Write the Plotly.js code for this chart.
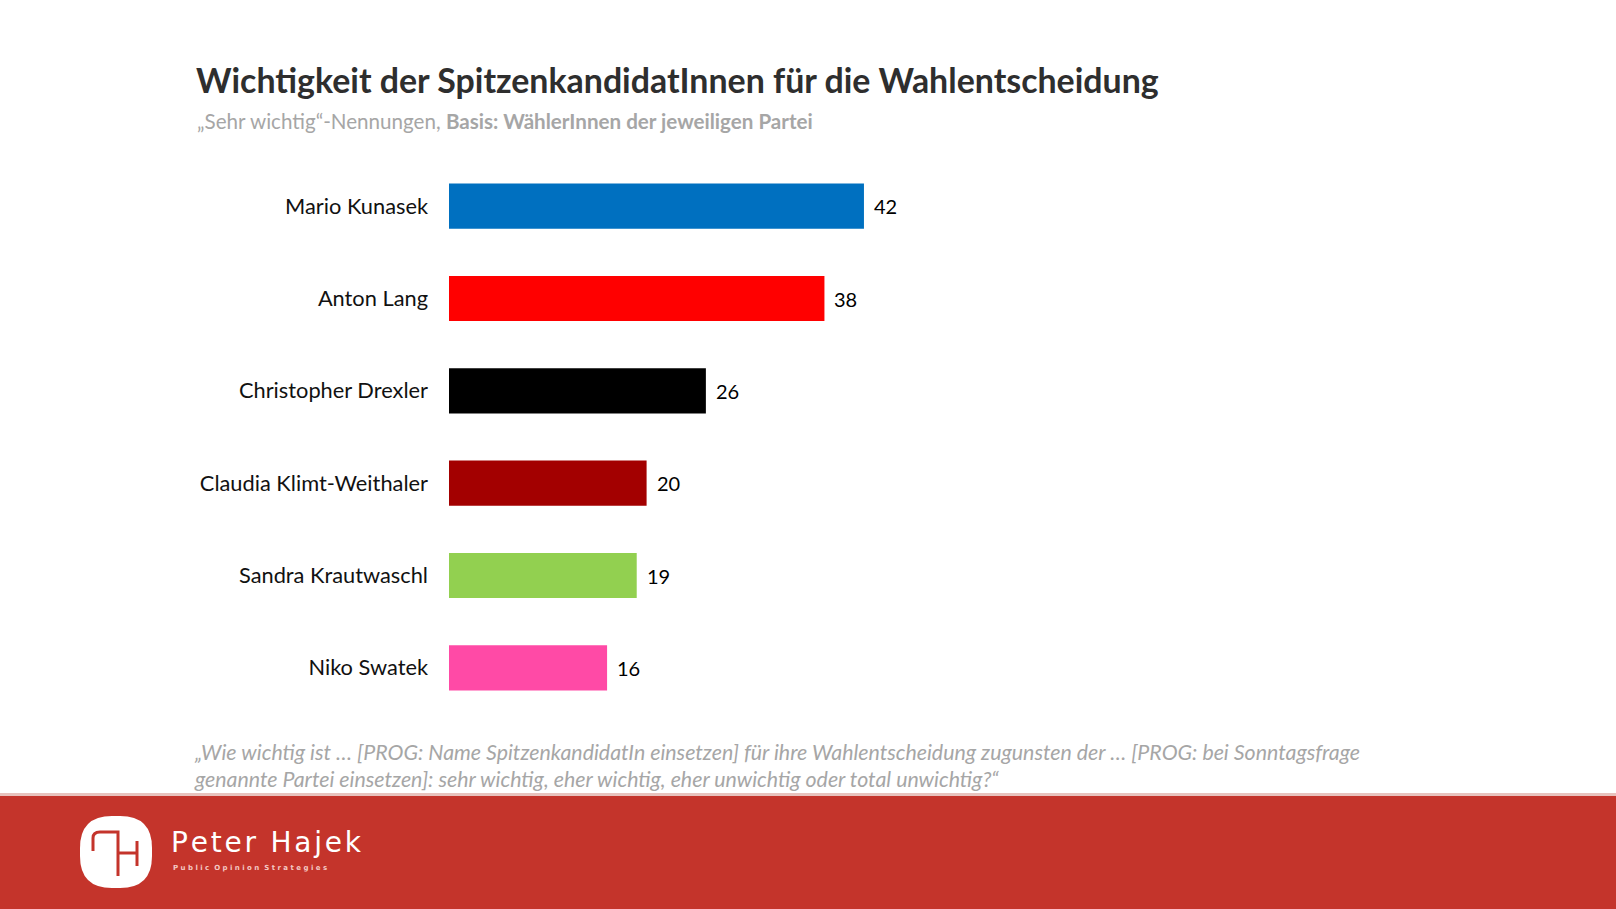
<!DOCTYPE html>
<html>
<head>
<meta charset="utf-8">
<script src="https://cdn.plot.ly/plotly-3.0.1.min.js"></script>
<style>html,body{margin:0;padding:0;background:#fff;}#chart{width:1616px;height:909px;}</style>
</head>
<body>
<div id="chart"></div>
<script>
const candidates = ["Mario Kunasek", "Anton Lang", "Christopher Drexler", "Claudia Klimt-Weithaler", "Sandra Krautwaschl", "Niko Swatek"];
const sehrWichtig = [42, 38, 26, 20, 19, 16];
const barColors = ["#0070c0", "#ff0000", "#000000", "#a30000", "#92d050", "#ff4aa6"];

const W = 1616, H = 909;
const M = {l: 449, r: 179, t: 160, b: 195};
const PW = W - M.l - M.r, PH = H - M.t - M.b;
function px(x) { return (x - M.l) / PW; }
function py(y) { return (H - M.b - y) / PH; }
function pt(p) { return px(p[0]).toFixed(5) + ',' + py(p[1]).toFixed(5); }
function path(pts) {
  return pts.map((p, i) => (i ? 'L' : 'M') + pt(p)).join(' ');
}
function roundedRect(x0, y0, x1, y1, r) {
  return 'M' + pt([x0 + r, y0]) + ' L' + pt([x1 - r, y0]) + ' Q' + pt([x1, y0]) + ' ' + pt([x1, y0 + r]) +
    ' L' + pt([x1, y1 - r]) + ' Q' + pt([x1, y1]) + ' ' + pt([x1 - r, y1]) +
    ' L' + pt([x0 + r, y1]) + ' Q' + pt([x0, y1]) + ' ' + pt([x0, y1 - r]) +
    ' L' + pt([x0, y0 + r]) + ' Q' + pt([x0, y0]) + ' ' + pt([x0 + r, y0]) + ' Z';
}

const trace = {
  type: 'bar', orientation: 'h',
  y: candidates, x: sehrWichtig,
  marker: {color: barColors},
  hoverinfo: 'none'
};

const valueLabels = candidates.map((c, i) => ({
  x: sehrWichtig[i], y: c, xref: 'x', yref: 'y',
  text: String(sehrWichtig[i]), showarrow: false,
  xanchor: 'left', yanchor: 'middle', xshift: 8,
  font: {family: 'Lato, sans-serif', size: 20, color: '#000'}
}));

const textFont = 'Lato, "Open Sans", sans-serif';
const annotations = valueLabels.concat([
  {xref: 'paper', yref: 'paper', x: px(194), y: py(80), xanchor: 'left', yanchor: 'middle', showarrow: false,
   text: '<b>Wichtigkeit der SpitzenkandidatInnen für die Wahlentscheidung</b>',
   font: {family: textFont, size: 33.9, color: '#2e2e2e'}},
  {xref: 'paper', yref: 'paper', x: px(195), y: py(121), xanchor: 'left', yanchor: 'middle', showarrow: false,
   text: '„Sehr wichtig“-Nennungen, <b>Basis: WählerInnen der jeweiligen Partei</b>',
   font: {family: textFont, size: 20.6, color: '#a6a6a6'}},
  {xref: 'paper', yref: 'paper', x: px(192), y: py(752), xanchor: 'left', yanchor: 'middle', showarrow: false,
   text: '<i>„Wie wichtig ist … [PROG: Name SpitzenkandidatIn einsetzen] für ihre Wahlentscheidung zugunsten der … [PROG: bei Sonntagsfrage</i>',
   font: {family: textFont, size: 21.35, color: '#a6a6a6'}},
  {xref: 'paper', yref: 'paper', x: px(192), y: py(779), xanchor: 'left', yanchor: 'middle', showarrow: false,
   text: '<i>genannte Partei einsetzen]: sehr wichtig, eher wichtig, eher unwichtig oder total unwichtig?“</i>',
   font: {family: textFont, size: 21.35, color: '#a6a6a6'}},
  {xref: 'paper', yref: 'paper', x: px(169), y: py(842), xanchor: 'left', yanchor: 'middle', showarrow: false,
   text: 'P\u200ae\u200at\u200ae\u200ar\u2009 H\u200aa\u200aj\u200ae\u200ak',
   font: {family: '"DejaVu Sans", sans-serif', size: 28, color: '#ffffff'}},
  {xref: 'paper', yref: 'paper', x: px(171), y: py(868), xanchor: 'left', yanchor: 'middle', showarrow: false,
   text: '<b>P u b l i c  O p i n i o n  S t r a t e g i e s</b>',
   font: {family: '"DejaVu Sans", sans-serif', size: 7, color: '#f4c9c4'}}
]);

const red = '#c4342b';
const shapes = [
  {type: 'rect', xref: 'paper', yref: 'paper', x0: px(0), x1: px(W), y0: py(793), y1: py(796),
   fillcolor: '#e8c2bd', line: {width: 0}, layer: 'below'},
  {type: 'rect', xref: 'paper', yref: 'paper', x0: px(0), x1: px(W), y0: py(796), y1: py(H + 2),
   fillcolor: red, line: {width: 0}, layer: 'below'},
  {type: 'path', xref: 'paper', yref: 'paper', fillcolor: '#ffffff', line: {width: 0},
   path: roundedRect(80, 816, 152, 888, 32)},
  {type: 'path', xref: 'paper', yref: 'paper', line: {color: red, width: 3},
   path: 'M' + pt([93, 851]) + ' L' + pt([93, 838]) + ' Q' + pt([93, 832]) + ' ' + pt([100, 832]) +
         ' L' + pt([118, 832]) + ' L' + pt([118, 876])},
  {type: 'path', xref: 'paper', yref: 'paper', line: {color: red, width: 3},
   path: path([[118, 853], [137, 853]])},
  {type: 'path', xref: 'paper', yref: 'paper', line: {color: red, width: 3},
   path: path([[137, 841], [137, 866]])}
];

const layout = {
  width: W, height: H,
  margin: M,
  paper_bgcolor: '#ffffff', plot_bgcolor: '#ffffff',
  showlegend: false,
  bargap: 0.51,
  xaxis: {range: [0, 100], visible: false, fixedrange: true},
  yaxis: {autorange: 'reversed', showline: false, showgrid: false, zeroline: false,
          ticks: '', ticklabelstandoff: 20, fixedrange: true,
          tickfont: {family: textFont, size: 21.8, color: '#111111'}},
  annotations: annotations,
  shapes: shapes
};

Plotly.newPlot('chart', [trace], layout, {displayModeBar: false, staticPlot: true});
</script>
</body>
</html>
